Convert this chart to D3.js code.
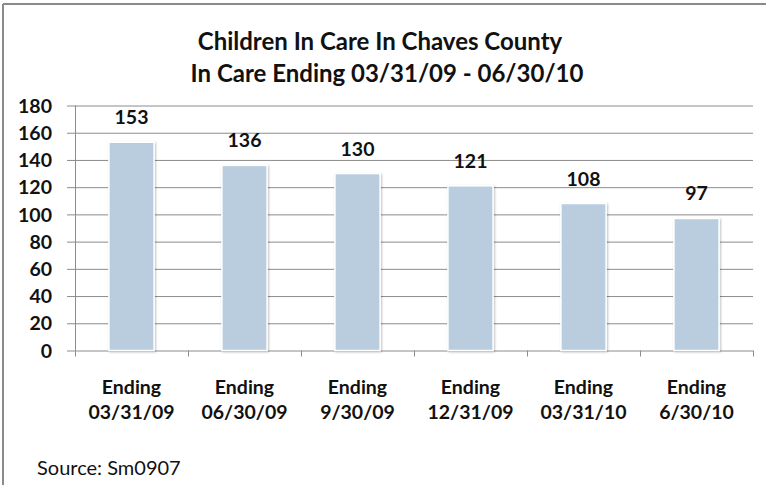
<!DOCTYPE html>
<html>
<head>
<meta charset="utf-8">
<script src="https://cdn.jsdelivr.net/npm/d3@7"></script>
<style>
  html, body { margin: 0; padding: 0; background: #fff; }
  svg { display: block; }
  text { font-family: Lato, "Open Sans", sans-serif; fill: #111; }
</style>
</head>
<body>
<svg id="chart" width="766" height="485"></svg>
<script>
const categories = ["Ending|03/31/09", "Ending|06/30/09", "Ending|9/30/09", "Ending|12/31/09", "Ending|03/31/10", "Ending|6/30/10"];
const values = [153, 136, 130, 121, 108, 97];
const yTicks = [0, 20, 40, 60, 80, 100, 120, 140, 160, 180];
const titleLines = ["Children In Care In Chaves County", "In Care Ending 03/31/09 - 06/30/10"];
const sourceText = "Source: Sm0907";

(function () {
const svg = d3.select("#chart");
const W = 766, H = 485;
const pL = 75, pR = 753, pT = 105.5, pB = 350.5;

// Border (top and left visible)
svg.append("line").attr("x1", 3).attr("x2", W).attr("y1", 4).attr("y2", 4)
  .attr("stroke", "#8a8a8a").attr("stroke-width", 2);
svg.append("line").attr("x1", 3).attr("x2", 3).attr("y1", 4).attr("y2", H)
  .attr("stroke", "#8a8a8a").attr("stroke-width", 2);

const x = d3.scaleBand().domain(categories).range([pL, pR]).paddingInner(0.6).paddingOuter(0.3);
const y = d3.scaleLinear().domain([0, 180]).range([pB, pT]);

// Gridlines + left ticks
const yAxis = d3.axisLeft(y).tickValues(yTicks).tickSize(8).tickPadding(14).tickFormat(d3.format("d"));
const gy = svg.append("g").attr("transform", `translate(${pL},0)`).call(yAxis);
gy.select(".domain").attr("stroke", "#8c8c8c").attr("d", `M0.5,${pT}V${pB}`);
gy.selectAll(".tick line").attr("stroke", "#8c8c8c").attr("x2", pR - pL).attr("x1", -8);
gy.selectAll(".tick text").attr("font-size", 19.5).attr("font-weight", 700)
  .attr("font-family", "Lato, sans-serif").attr("fill", "#111").attr("dy", "0.34em")
  .attr("x", -23);

// Bottom axis ticks at band boundaries
const boundaries = categories.map(c => x(c) - x.step() * x.paddingInner() / 2).concat([pR]);
boundaries[0] = pL;
svg.append("g").selectAll("line").data(boundaries).join("line")
  .attr("x1", d => Math.round(d) + 0.5).attr("x2", d => Math.round(d) + 0.5)
  .attr("y1", pB).attr("y2", pB + 6).attr("stroke", "#8c8c8c");

// Bar shadow
const defs = svg.append("defs");
const f = defs.append("filter").attr("id", "sh").attr("x", "-20%").attr("y", "-20%").attr("width", "140%").attr("height", "140%");
f.append("feDropShadow").attr("dx", 1).attr("dy", 1).attr("stdDeviation", 1.2).attr("flood-color", "#000").attr("flood-opacity", 0.25);

svg.append("g").selectAll("rect").data(values).join("rect")
  .attr("x", (d, i) => x(categories[i]))
  .attr("y", d => y(d))
  .attr("width", x.bandwidth())
  .attr("height", d => pB - y(d))
  .attr("fill", "#b9cddf")
  .attr("stroke", "#ffffff").attr("stroke-width", 1.5)
  .attr("filter", "url(#sh)");

// Value labels
svg.append("g").selectAll("text").data(values).join("text")
  .attr("x", (d, i) => x(categories[i]) + x.bandwidth() / 2)
  .attr("y", d => y(d) - 18)
  .attr("text-anchor", "middle")
  .attr("font-size", 19.5).attr("font-weight", 700)
  .text(d => d);

// Category labels
const cl = svg.append("g").selectAll("text").data(categories).join("text")
  .attr("text-anchor", "middle")
  .attr("font-size", 19.5).attr("font-weight", 700);
cl.each(function(c) {
  const parts = c.split("|");
  const t = d3.select(this);
  const cx = x(c) + x.bandwidth() / 2;
  t.append("tspan").attr("x", cx).attr("y", 394).text(parts[0]);
  t.append("tspan").attr("x", cx).attr("y", 419).text(parts[1]);
});

// Title
svg.append("g").selectAll("text").data(titleLines).join("text")
  .attr("x", (d, i) => i === 0 ? 380 : 387).attr("y", (d, i) => 50 + i * 32)
  .attr("text-anchor", "middle")
  .attr("font-size", 24).attr("font-weight", 700)
  .text(d => d);

// Source
svg.append("text").attr("x", 37).attr("y", 475)
  .attr("font-size", 20).attr("font-weight", 400)
  .text(sourceText);
})();
</script>
</body>
</html>
